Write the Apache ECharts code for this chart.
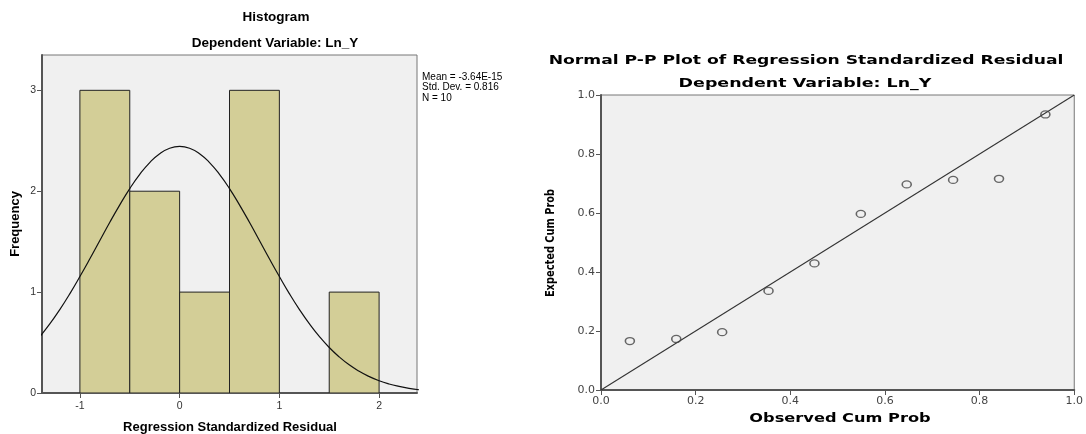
<!DOCTYPE html>
<html><head><meta charset="utf-8">
<script src="https://cdn.jsdelivr.net/npm/echarts@6/dist/echarts.min.js"></script>
<style>html,body{margin:0;padding:0;background:#fff;overflow:hidden}#c{width:100vw;height:100vh}</style>
</head><body><div id="c"></div>
<script>
// Histogram data
const binStart = [-1.0, -0.5, 0.0, 0.5, 1.0, 1.5];
const binEnd   = [-0.5,  0.0, 0.5, 1.0, 1.5, 2.0];
const binCount = [3, 2, 1, 3, 0, 1];
const histXTicks = [-1, 0, 1, 2];
const histYTicks = [0, 1, 2, 3];
// Normal curve (mean ~0, sd 0.816, N 10)
const curveX = [-1.4,-1.3,-1.2,-1.1,-1.0,-0.9,-0.8,-0.7,-0.6,-0.5,-0.4,-0.3,-0.2,-0.1,0.0,
                0.1,0.2,0.3,0.4,0.5,0.6,0.7,0.8,0.9,1.0,1.1,1.2,1.3,1.4,1.5,1.6,1.7,1.8,1.9,2.0,2.1,2.2,2.3,2.4];
const curveY = [0.561,0.687,0.829,0.985,1.154,1.330,1.511,1.692,1.865,2.026,2.167,2.284,2.372,2.426,2.444,
                2.426,2.372,2.284,2.167,2.026,1.865,1.692,1.511,1.330,1.154,0.985,0.829,0.687,0.561,0.451,0.358,0.279,0.215,0.163,0.121,0.089,0.065,0.046,0.032];
const statLines = ['Mean = -3.64E-15', 'Std. Dev. = 0.816', 'N = 10'];
// P-P plot data
const ppObserved = [0.061, 0.159, 0.256, 0.354, 0.451, 0.549, 0.646, 0.744, 0.841, 0.939];
const ppExpected = [0.166, 0.173, 0.196, 0.336, 0.429, 0.597, 0.697, 0.712, 0.716, 0.934];
const refLine = [[0, 0], [1, 1]];

const chart = echarts.init(document.getElementById('c'), null, {renderer: 'canvas'});
const LF = 'Liberation Sans, Arial, sans-serif';
const RF = 'DejaVu Sans, Verdana, sans-serif';
const axisLineL = {show: true, onZero: false, lineStyle: {color: '#555', width: 2}};
const tickStyle = {show: true, length: 5, lineStyle: {color: '#555', width: 1}};

function txt(text, x, y, font, opts) {
  opts = opts || {};
  return {type: 'text', x: x, y: y, rotation: opts.rotation || 0,
    scaleX: opts.sx || 1, scaleY: opts.sy || 1,
    style: {text: text, fill: '#000', font: font, align: 'center', verticalAlign: 'middle',
            textAlign: 'center', textVerticalAlign: 'middle'}};
}

const graphics = [
  txt('Histogram', 276, 17, 'bold 13.5px ' + LF),
  txt('Dependent Variable: Ln_Y', 275, 43, 'bold 13.5px ' + LF),
  txt('Frequency', 15, 224, 'bold 13px ' + LF, {rotation: Math.PI / 2}),
  txt('Regression Standardized Residual', 230, 427, 'bold 13px ' + LF),
  txt('Normal P-P Plot of Regression Standardized Residual', 806, 61, 'bold 13px ' + RF, {sx: 1.32}),
  txt('Dependent Variable: Ln_Y', 805, 84, 'bold 13px ' + RF, {sx: 1.34}),
  txt('Observed Cum Prob', 840, 419, 'bold 12px ' + RF, {sx: 1.35}),
  txt('Expected Cum Prob', 551, 243, 'bold 12px ' + RF, {rotation: Math.PI / 2, sy: 1.0, sx: 0.82})
];
statLines.forEach((s, i) => {
  graphics.push({type: 'text', x: 422, y: 77 + i * 10.5,
    style: {text: s, fill: '#000', font: '10px ' + LF, align: 'left', verticalAlign: 'middle',
            textAlign: 'left', textVerticalAlign: 'middle'}});
});

const option = {
  animation: false,
  backgroundColor: '#fff',
  graphic: graphics,
  grid: [
    {left: 42, width: 375, top: 55, bottom: 41, show: true, backgroundColor: '#F0F0F0', borderColor: '#777', borderWidth: 1},
    {left: 601, width: 477, top: 95, bottom: 44, show: true, backgroundColor: '#F0F0F0', borderColor: '#777', borderWidth: 1}
  ],
  xAxis: [
    {type: 'value', gridIndex: 0, min: -1.38, max: 2.38,
     axisLine: axisLineL, axisTick: Object.assign({customValues: histXTicks}, tickStyle),
     axisLabel: {customValues: histXTicks, fontFamily: LF, fontSize: 10.5, color: '#333', margin: 8},
     splitLine: {show: false}},
    {type: 'value', gridIndex: 1, min: 0, max: 1, interval: 0.2,
     axisLine: axisLineL, axisTick: tickStyle,
     axisLabel: {fontFamily: RF, fontSize: 11, color: '#444', margin: 6, formatter: v => v.toFixed(1)},
     splitLine: {show: false}}
  ],
  yAxis: [
    {type: 'value', gridIndex: 0, min: 0, max: 3.35,
     axisLine: axisLineL, axisTick: Object.assign({customValues: histYTicks}, tickStyle),
     axisLabel: {customValues: histYTicks, fontFamily: LF, fontSize: 10.5, color: '#333', margin: 6},
     splitLine: {show: false}},
    {type: 'value', gridIndex: 1, min: 0, max: 1, interval: 0.2,
     axisLine: axisLineL, axisTick: tickStyle,
     axisLabel: {fontFamily: RF, fontSize: 11, color: '#444', margin: 6, formatter: v => v.toFixed(1)},
     splitLine: {show: false}}
  ],
  series: [
    {type: 'custom', xAxisIndex: 0, yAxisIndex: 0, clip: true,
     data: binStart.map((s, i) => [s, binEnd[i], binCount[i]]),
     renderItem: function (params, api) {
       const c = api.value(2);
       if (!c) return null;
       const p0 = api.coord([api.value(0), 0]);
       const p1 = api.coord([api.value(1), c]);
       return {type: 'rect',
         shape: {x: p0[0], y: p1[1], width: p1[0] - p0[0], height: p0[1] - p1[1]},
         style: {fill: '#D3CE97', stroke: '#222', lineWidth: 1}};
     },
     z: 2},
    {type: 'line', xAxisIndex: 0, yAxisIndex: 0, clip: true, smooth: true, symbol: 'none',
     data: curveX.map((x, i) => [x, curveY[i]]),
     lineStyle: {color: '#111', width: 1.2}, z: 3},
    {type: 'line', xAxisIndex: 1, yAxisIndex: 1, symbol: 'none', data: refLine,
     lineStyle: {color: '#333', width: 1.1}, z: 2},
    {type: 'scatter', xAxisIndex: 1, yAxisIndex: 1,
     data: ppObserved.map((x, i) => [x, ppExpected[i]]),
     symbol: 'circle', symbolSize: [9, 7],
     itemStyle: {color: 'rgba(0,0,0,0)', borderColor: '#444', borderWidth: 1.4}, z: 3}
  ]
};
chart.setOption(option);
</script></body></html>
